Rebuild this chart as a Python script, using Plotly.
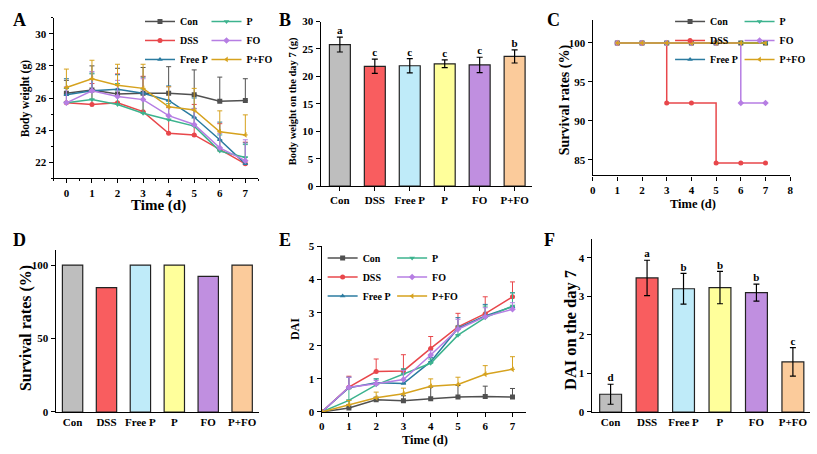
import plotly.graph_objects as go
from plotly.subplots import make_subplots

# groups and days
groups = ["Con", "DSS", "Free P", "P", "FO", "P+FO"]
days = [0, 1, 2, 3, 4, 5, 6, 7]
surv_days = [1, 2, 3, 4, 5, 6, 7]

# A: body weight over time (mean, upper SD)
bw_con = [26.3, 26.5, 26.25, 26.3, 26.3, 26.2, 25.8, 25.85]
bw_dss = [25.7, 25.6, 25.7, 25.15, 23.8, 23.7, 22.8, 21.9]
bw_freep = [26.2, 26.45, 26.55, 26.3, 25.85, 24.8, 23.4, 21.9]
bw_p = [25.7, 25.9, 25.6, 25.05, 24.65, 24.25, 22.7, 22.3]
bw_fo = [25.7, 26.45, 26.1, 25.9, 24.9, 24.35, 22.9, 22.1]
bw_pfo = [26.65, 27.2, 26.8, 26.6, 25.45, 25.25, 23.9, 23.7]
bw_con_sd = [0.8, 1.5, 1.6, 1.6, 1.65, 1.55, 1.5, 1.35]
bw_dss_sd = [0.9, 1.3, 1.8, 2.2, 1.6, 1.9, 1.6, 1.35]
bw_freep_sd = [1.0, 1.1, 0.9, 1.0, 0.9, 1.2, 1.1, 1.3]
bw_p_sd = [0.9, 1.6, 1.3, 1.5, 1.0, 1.1, 1.0, 0.8]
bw_fo_sd = [1.0, 1.2, 1.0, 1.3, 1.8, 1.0, 0.9, 1.3]
bw_pfo_sd = [1.15, 1.15, 1.3, 1.5, 1.25, 1.35, 1.3, 1.25]

# B: body weight on day 7
bw7 = [25.8, 21.85, 21.95, 22.3, 22.1, 23.65]
bw7_sd = [1.35, 1.3, 1.3, 0.7, 1.4, 1.2]
bw7_sig = ["a", "c", "c", "c", "c", "b"]

# C: survival curves
sv_con = [100, 100, 100, 100, 100, 100, 100]
sv_dss = [100, 100, 92.3, 92.3, 84.6, 84.6, 84.6]
sv_freep = [100, 100, 100, 100, 100, 100, 100]
sv_p = [100, 100, 100, 100, 100, 100, 100]
sv_fo = [100, 100, 100, 100, 100, 92.3, 92.3]
sv_pfo = [100, 100, 100, 100, 100, 100, 100]

# D: final survival
surv_final = [100, 84.6, 100, 100, 92.3, 100]

# E: DAI over time
dai_con = [0, 0.12, 0.37, 0.34, 0.4, 0.45, 0.47, 0.45]
dai_dss = [0, 0.75, 1.22, 1.24, 1.92, 2.57, 2.97, 3.48]
dai_freep = [0, 0.73, 0.88, 0.86, 1.52, 2.53, 2.9, 3.18]
dai_p = [0, 0.35, 0.82, 1.15, 1.47, 2.32, 2.85, 3.2]
dai_fo = [0, 0.75, 0.85, 0.98, 1.72, 2.5, 2.88, 3.1]
dai_pfo = [0, 0.22, 0.43, 0.55, 0.78, 0.83, 1.14, 1.29]
dai_con_sd = [0, 0.1, 0.08, 0.15, 0.35, 0.35, 0.31, 0.26]
dai_dss_sd = [0, 0.33, 0.38, 0.49, 0.36, 0.41, 0.51, 0.45]
dai_freep_sd = [0, 0.32, 0.12, 0.44, 0.13, 0.32, 0.35, 0.42]
dai_p_sd = [0, 0.35, 0.18, 0.15, 0.13, 0.28, 0.35, 0.4]
dai_fo_sd = [0, 0.3, 0.1, 0.27, 0.13, 0.3, 0.27, 0.2]
dai_pfo_sd = [0, 0.13, 0.17, 0.17, 0.22, 0.22, 0.26, 0.38]

# F: DAI on day 7
dai7 = [0.46, 3.48, 3.2, 3.23, 3.1, 1.3]
dai7_sd = [0.26, 0.46, 0.4, 0.42, 0.22, 0.37]
dai7_sig = ["d", "a", "b", "b", "b", "c"]

line_colors = ["#505050", "#E8474B", "#2B7BA0", "#3CB38E", "#B67EE3", "#D6A21E"]
bar_colors = ["#BEBEBE", "#F95D5F", "#BFEBF9", "#FFFF9B", "#C08FE0", "#FBCB9B"]
symbols = ["square", "circle", "triangle-up", "triangle-down", "diamond", "triangle-left"]

W, H = 817, 454
FONT = "Liberation Serif, Times New Roman, serif"

fig = make_subplots(rows=2, cols=3)

def add_lines(row, col, ys, sds, leg_a, leg_b, shape="linear"):
    for i, g in enumerate(groups):
        err = None
        if sds is not None:
            err = dict(type="data", symmetric=False, array=sds[i],
                       arrayminus=[0] * len(sds[i]), color=line_colors[i],
                       thickness=1, width=2.5)
        x = surv_days if shape == "hv" else days
        fig.add_trace(go.Scatter(
            x=x, y=ys[i], mode="lines+markers", name=g,
            line=dict(color=line_colors[i], width=1.5, shape=shape),
            marker=dict(symbol=symbols[i], size=5, color=line_colors[i]),
            error_y=err, legend=leg_a if i < 3 else leg_b,
        ), row=row, col=col)

def add_bars(row, col, vals, sds=None, sig=None):
    err = None
    if sds is not None:
        err = dict(type="data", array=sds, color="black", thickness=1.2, width=3)
    fig.add_trace(go.Bar(
        x=groups, y=vals, width=0.6, marker=dict(color=bar_colors, line=dict(color="#222", width=1.2)),
        error_y=err, showlegend=False,
    ), row=row, col=col)
    if sig is not None:
        fig.add_trace(go.Scatter(
            x=groups, y=[v + s for v, s in zip(vals, sds)], mode="text", text=sig,
            textposition="top center", textfont=dict(size=11, family=FONT, weight="bold"),
            showlegend=False,
        ), row=row, col=col)

add_lines(1, 1, [bw_con, bw_dss, bw_freep, bw_p, bw_fo, bw_pfo],
          [bw_con_sd, bw_dss_sd, bw_freep_sd, bw_p_sd, bw_fo_sd, bw_pfo_sd], "legend", "legend2")
add_bars(1, 2, bw7, bw7_sd, bw7_sig)
add_lines(1, 3, [sv_con, sv_dss, sv_freep, sv_p, sv_fo, sv_pfo], None, "legend3", "legend4", shape="hv")
add_bars(2, 1, surv_final)
add_lines(2, 2, [dai_con, dai_dss, dai_freep, dai_p, dai_fo, dai_pfo],
          [dai_con_sd, dai_dss_sd, dai_freep_sd, dai_p_sd, dai_fo_sd, dai_pfo_sd], "legend5", "legend6")
add_bars(2, 3, dai7, dai7_sd, dai7_sig)

# panel boxes in pixels: (x0, x1, ytop, ybottom)
boxes = [(51, 257, 12, 177), (320, 533, 16, 185), (594, 793, 14, 174),
         (53, 258, 251, 417), (321, 527, 247, 417), (593, 813, 239, 417)]

axis_style = dict(showline=True, linecolor="black", linewidth=1.2, ticks="outside",
                  ticklen=4, tickwidth=1, tickcolor="black", showgrid=False, zeroline=False,
                  tickfont=dict(family=FONT, size=11, color="black", weight="bold"))

xcfg = [
    dict(range=[-0.5, 7.5], dtick=1, tick0=0,
         minor=dict(ticks="outside", ticklen=2, dtick=0.5, tickcolor="black")),
    dict(range=[-0.55, 5.5]),
    dict(range=[0, 8], dtick=1, tick0=0),
    dict(range=[-0.5, 5.5], ticks=""),
    dict(range=[0, 7.5], dtick=1, tick0=0),
    dict(range=[-0.52, 5.47], ticks=""),
]
ycfg = [
    dict(range=[21, 31], dtick=2, tick0=22,
         minor=dict(ticks="outside", ticklen=2, dtick=1, tickcolor="black")),
    dict(range=[0, 30], dtick=5),
    dict(range=[83, 103], dtick=5, tick0=85),
    dict(range=[0, 110], dtick=50),
    dict(range=[0, 5], dtick=1),
    dict(range=[0, 4.5], dtick=1),
]

for k in range(6):
    x0, x1, yt, yb = boxes[k]
    sfx = "" if k == 0 else str(k + 1)
    fig.layout["xaxis" + sfx].update(dict(axis_style, domain=[x0 / W, x1 / W], **xcfg[k]))
    fig.layout["yaxis" + sfx].update(dict(axis_style, domain=[1 - yb / H, 1 - yt / H], **ycfg[k]))

# axis titles: (text, x px, y px, size, angle)
titles = [
    ("Body weight (g)", 23, 95, 11.5, -90), ("Time (d)", 157, 205, 15, 0),
    ("Body weight on the day 7 (g)", 293, 98, 10.5, -90),
    ("Survival rates (%)", 567, 96, 14, -90), ("Time (d)", 695, 203, 12.5, 0),
    ("Survival rates (%)", 23, 331, 16, -90),
    ("DAI", 294, 332, 12, -90), ("Time (d)", 425, 446, 12.5, 0),
    ("DAI on the day 7", 571, 333, 16.5, -90),
]
for t, px, py, fs, ang in titles:
    fig.add_annotation(text=t, x=px / W, y=1 - py / H, xref="paper", yref="paper",
                       xanchor="center", yanchor="middle", showarrow=False, textangle=ang,
                       font=dict(family=FONT, size=fs, color="black", weight="bold"))

leg_font = dict(family=FONT, size=10, color="black", weight="bold")
leg_common = dict(font=leg_font, bgcolor="rgba(0,0,0,0)", itemwidth=30,
                  xanchor="left", yanchor="top", tracegroupgap=0)
fig.update_layout(
    legend=dict(leg_common, x=138 / W, y=1 - 1 / H),
    legend2=dict(leg_common, x=205 / W, y=1 - 1 / H),
    legend3=dict(leg_common, x=672 / W, y=1 - 1 / H),
    legend4=dict(leg_common, x=742 / W, y=1 - 1 / H),
    legend5=dict(leg_common, x=322 / W, y=1 - 244 / H),
    legend6=dict(leg_common, x=392 / W, y=1 - 244 / H),
)

labels = [("A", 8, 14), ("B", 276, 14), ("C", 546, 14), ("D", 8, 240), ("E", 276, 240), ("F", 543, 240)]
for t, px, py in labels:
    fig.add_annotation(text=t, x=px / W, y=1 - py / H, xref="paper", yref="paper",
                       xanchor="left", yanchor="middle", showarrow=False,
                       font=dict(family=FONT, size=18, color="black", weight="bold"))

fig.update_layout(width=W, height=H, margin=dict(l=0, r=0, t=0, b=0),
                  paper_bgcolor="white", plot_bgcolor="white",
                  font=dict(family=FONT, color="black"), bargap=0.4)

fig.write_html("out.html", config={"displayModeBar": False},
               post_script="document.body.style.margin='0';")
